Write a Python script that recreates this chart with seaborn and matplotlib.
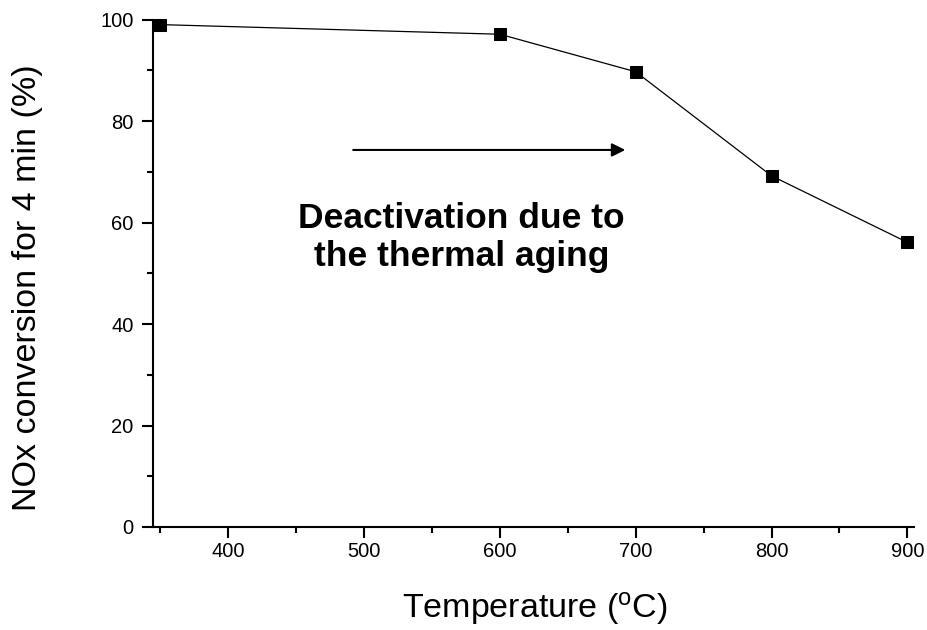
import matplotlib
matplotlib.use("Agg")
import matplotlib.pyplot as plt
import seaborn as sns
import pandas as pd
from matplotlib.ticker import MultipleLocator

temperature = [350, 600, 700, 800, 900]
nox_conversion = [99.0, 97.1, 89.7, 69.2, 56.1]

df = pd.DataFrame({"Temperature": temperature, "NOx": nox_conversion})

sns.set_style("ticks")
plt.rcParams["font.family"] = ["Liberation Sans", "DejaVu Sans"]
plt.rcParams["mathtext.fontset"] = "custom"
plt.rcParams["mathtext.rm"] = "Liberation Sans"
for key in ("text.color", "axes.labelcolor", "xtick.color", "ytick.color",
            "axes.edgecolor"):
    plt.rcParams[key] = "black"

fig = plt.figure(figsize=(9.28, 6.3), dpi=100)
ax = fig.add_axes([0.1649, 0.1635, 0.985 - 0.1649, 0.969 - 0.1635])

sns.lineplot(data=df, x="Temperature", y="NOx", ax=ax, color="black",
             linewidth=0.9, marker="s", markersize=8.5, markeredgecolor="black",
             markerfacecolor="black", clip_on=False)

ax.set_xlim(344.5, 905)
ax.set_ylim(0, 100)
ax.set_xticks([400, 500, 600, 700, 800, 900])
ax.xaxis.set_minor_locator(MultipleLocator(50))
ax.yaxis.set_major_locator(MultipleLocator(20))
ax.yaxis.set_minor_locator(MultipleLocator(10))
ax.tick_params(which="major", length=8, width=1.5, direction="out",
               labelsize=14.5)
ax.tick_params(axis="x", which="major", pad=3)
ax.tick_params(axis="y", which="major", pad=6)
ax.tick_params(which="minor", length=4.5, width=1.5, direction="out")
for side in ("left", "bottom"):
    ax.spines[side].set_linewidth(1.5)
sns.despine(ax=ax)

ax.set_xlabel("Temperature ($\\mathregular{^o}$C)", fontsize=24.5)
ax.set_ylabel("NOx conversion for 4 min (%)", fontsize=24.5)
ax.xaxis.set_label_coords(0.502, -0.124)
ax.yaxis.set_label_coords(-0.1446, 0.471)

ax.annotate("", xy=(692.3, 74.3), xytext=(491.9, 74.3),
            arrowprops=dict(arrowstyle="-|>", color="black", lw=1.5,
                            mutation_scale=20, shrinkA=0, shrinkB=0))
ax.text(571.5, 57.1, "Deactivation due to\nthe thermal aging", ha="center",
        va="center", fontsize=25.5, fontweight="bold", linespacing=1.2)

fig.savefig("out.png", dpi=100)
